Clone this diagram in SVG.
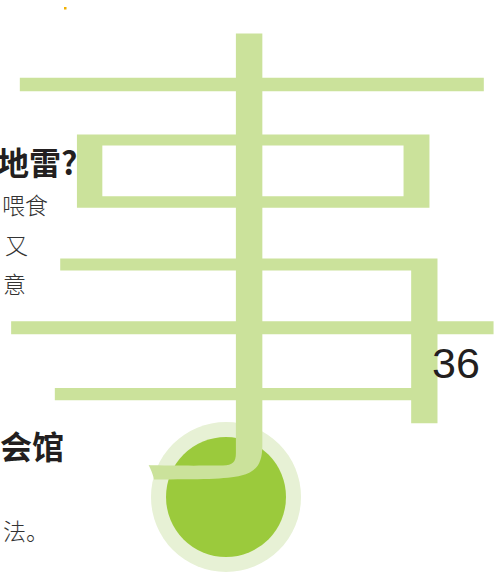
<svg xmlns="http://www.w3.org/2000/svg" width="495" height="572" viewBox="0 0 495 572">
<style>
.head{font-family:"Noto Sans CJK SC","Noto Sans",sans-serif;font-weight:700;font-size:32px;fill:#231f20}
.body{font-family:"Noto Sans CJK SC","Noto Sans",sans-serif;font-weight:300;font-size:23px;fill:#333}
.big{font-family:"Noto Sans CJK SC",sans-serif;font-weight:300;fill:#cbe29b}
</style>
<defs>
<filter id="thin" x="-20%" y="-20%" width="140%" height="140%" color-interpolation-filters="sRGB">
<feMorphology operator="erode" radius="0.5 4"/>
</filter>
</defs>
<rect width="495" height="572" fill="#fff"/>
<g id="texts">
<text class="head" x="-3" y="175">地雷?</text>
<text class="body" x="48" y="214" text-anchor="end">喂食</text>
<text class="body" x="28" y="254" text-anchor="end">又</text>
<text class="body" x="26" y="293" text-anchor="end">意</text>
<text class="head" x="64" y="459" text-anchor="end">会馆</text>
<text class="body" x="3" y="540">法。</text>
</g>
<g id="badge">
<circle cx="226" cy="497" r="75" fill="#e7f1d5"/>
<circle cx="226" cy="497" r="60" fill="#9bca3c"/>
</g>
<g id="glyph" transform="matrix(0.98 0 0 0.905 7 13.5)">
<text class="big" x="249" y="477" font-size="550" text-anchor="middle" filter="url(#thin)">事</text>
</g>
<text id="page" x="432" y="378" font-family="Liberation Sans, Arial, sans-serif" font-size="43" fill="#231f20">36</text>
<rect id="dot" x="64" y="7" width="2.5" height="2.5" fill="#f0b000"/>
</svg>
